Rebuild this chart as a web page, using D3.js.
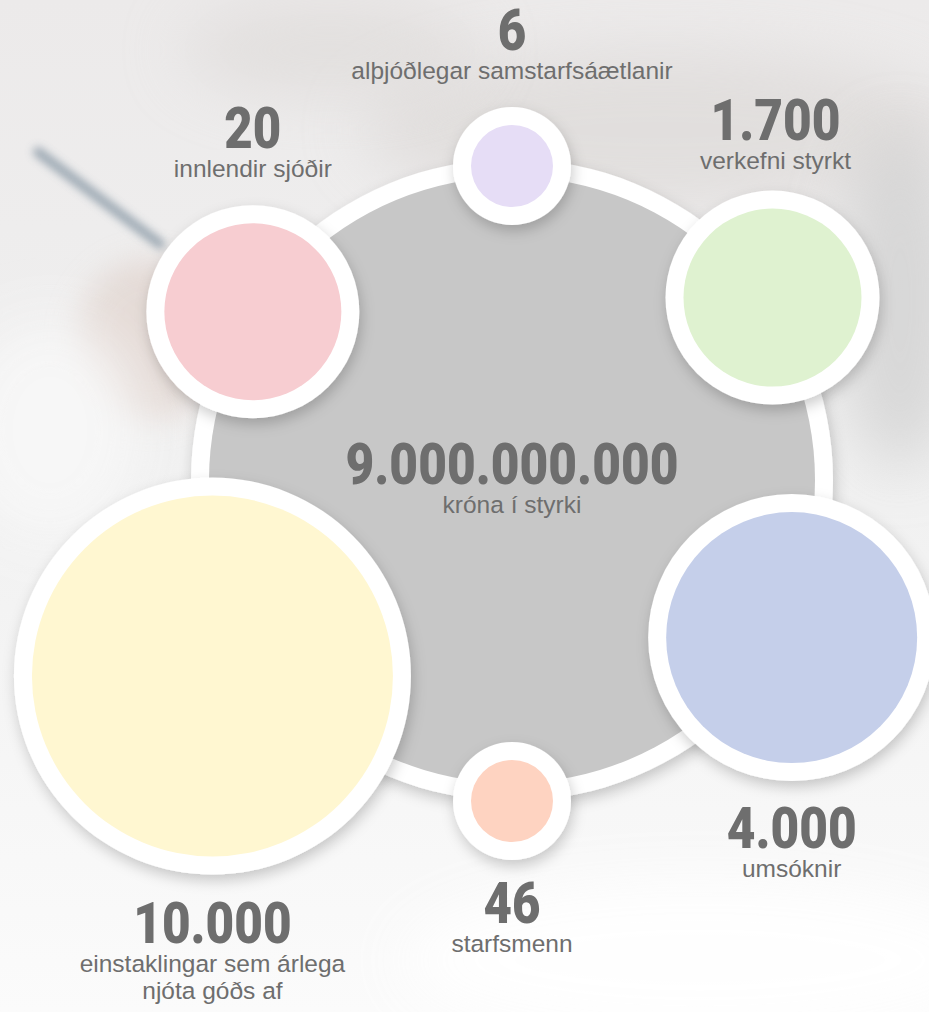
<!DOCTYPE html>
<html>
<head>
<meta charset="utf-8">
<script src="https://cdn.jsdelivr.net/npm/d3@7"></script>
<style>
  html, body { margin: 0; padding: 0; background: #f3f3f3; }
  svg { display: block; }
</style>
</head>
<body>
<div id="chart"></div>
<script>
const width = 929;
const height = 1012;

// centre figure
const centerValue = "9.000.000.000";
const centerLabel = ["króna í styrki"];

// satellite figures, clockwise from the top
const values = ["6", "1.700", "4.000", "46", "10.000", "20"];
const labels = [
  ["alþjóðlegar samstarfsáætlanir"],
  ["verkefni styrkt"],
  ["umsóknir"],
  ["starfsmenn"],
  ["einstaklingar sem árlega", "njóta góðs af"],
  ["innlendir sjóðir"]
];

// layout (degrees clockwise from 12 o'clock, distance from centre, inner radius)
const angles = [0, 55, 119.4, 180, 236.8, 303];
const distances = [314, 318, 321, 321, 358, 309];
const radii = [41, 89, 125.5, 41, 180.5, 88.5];
const textDx = [0, 3, 0, 0, 0, 0];
const textDy = [-116, -158, 210, 122, 267, -164];
const fills = ["#e6ddf6", "#dff2d0", "#c5cfea", "#fed3c1", "#fff7d1", "#f7cdd1"];

const cx = 512, cy = 480;
const centerR = 303;
const ring = 18;
const textColor = "#6e6e6e";

const svg = d3.select("#chart")
  .append("svg")
  .attr("width", width)
  .attr("height", height);

const defs = svg.append("defs");

const blur = (id, sd) => defs.append("filter")
  .attr("id", id)
  .attr("x", "-50%").attr("y", "-50%")
  .attr("width", "200%").attr("height", "200%")
  .append("feGaussianBlur").attr("stdDeviation", sd);
blur("blur30", 30);
blur("blur15", 15);
blur("blur4", 4);

const shadow = defs.append("filter")
  .attr("id", "shadow")
  .attr("x", "-30%").attr("y", "-30%")
  .attr("width", "160%").attr("height", "160%");
shadow.append("feDropShadow")
  .attr("dx", 2).attr("dy", 6)
  .attr("stdDeviation", 7)
  .attr("flood-color", "#000")
  .attr("flood-opacity", 0.2);

const bgGrad = defs.append("linearGradient")
  .attr("id", "bggrad")
  .attr("x1", 0).attr("y1", 0).attr("x2", 0).attr("y2", 1);
bgGrad.append("stop").attr("offset", "0%").attr("stop-color", "#eceaea");
bgGrad.append("stop").attr("offset", "45%").attr("stop-color", "#f0f0f0");
bgGrad.append("stop").attr("offset", "100%").attr("stop-color", "#fbfbfb");

// blurred photo backdrop
const bg = svg.append("g");
bg.append("rect").attr("width", width).attr("height", height).attr("fill", "url(#bggrad)");
bg.append("ellipse").attr("cx", 660).attr("cy", 130).attr("rx", 300).attr("ry", 80)
  .attr("fill", "#d8d4d2").attr("opacity", 0.55).attr("filter", "url(#blur30)");
bg.append("ellipse").attr("cx", 330).attr("cy", 50).attr("rx", 150).attr("ry", 50)
  .attr("fill", "#d9d5d3").attr("opacity", 0.5).attr("filter", "url(#blur30)");
bg.append("ellipse").attr("cx", 900).attr("cy", 300).attr("rx", 60).attr("ry", 170)
  .attr("fill", "#cdcdcd").attr("opacity", 0.7).attr("filter", "url(#blur30)");
bg.append("ellipse").attr("cx", 150).attr("cy", 340).attr("rx", 75).attr("ry", 80)
  .attr("fill", "#e2d6d0").attr("opacity", 0.8).attr("filter", "url(#blur15)");
bg.append("ellipse").attr("cx", 50).attr("cy", 430).attr("rx", 90).attr("ry", 110)
  .attr("fill", "#f8f8f8").attr("opacity", 0.9).attr("filter", "url(#blur30)");
bg.append("line").attr("x1", 38).attr("y1", 152).attr("x2", 160).attr("y2", 244)
  .attr("stroke", "#8898a5").attr("stroke-width", 10).attr("stroke-linecap", "round")
  .attr("opacity", 0.8).attr("filter", "url(#blur4)");
bg.append("ellipse").attr("cx", 700).attr("cy", 960).attr("rx", 300).attr("ry", 80)
  .attr("fill", "#ffffff").attr("opacity", 0.9).attr("filter", "url(#blur30)");

// centre circle
const center = svg.append("g").attr("transform", `translate(${cx},${cy})`);
center.append("circle").attr("r", centerR + ring).attr("fill", "#fff").attr("filter", "url(#shadow)");
center.append("circle").attr("r", centerR).attr("fill", "#c7c7c7");

// satellites
const nodes = values.map((v, i) => {
  const p = d3.pointRadial(angles[i] * Math.PI / 180, distances[i]);
  return { value: v, label: labels[i], x: cx + p[0], y: cy + p[1], r: radii[i], fill: fills[i], dx: textDx[i], dy: textDy[i] };
});

const sat = svg.selectAll("g.sat")
  .data(nodes)
  .join("g")
  .attr("class", "sat")
  .attr("transform", d => `translate(${d.x},${d.y})`);
sat.append("circle").attr("r", d => d.r + ring).attr("fill", "#fff").attr("filter", "url(#shadow)");
sat.append("circle").attr("r", d => d.r).attr("fill", d => d.fill);

// text
const numberFont = "Roboto, 'DejaVu Sans Condensed', sans-serif";
const labelFont = "'Liberation Sans', Arial, Helvetica, sans-serif";

function addFigure(x, y, value, lines) {
  const g = svg.append("g");
  const num = g.append("text")
    .attr("text-anchor", "middle")
    .attr("font-family", numberFont)
    .attr("font-weight", 900)
    .attr("font-size", 57)
    .attr("fill", textColor)
    .text(value);
  const digits = value.replace(/[^0-9]/g, "").length;
  const dots = value.length - digits;
  const target = digits * 28.5 + dots * 16;
  const sx = target / num.node().getComputedTextLength();
  num.attr("transform", `translate(${x},${y}) scale(${sx},1)`);
  lines.forEach((t, k) => {
    g.append("text")
      .attr("x", x)
      .attr("y", y + 29 + k * 27)
      .attr("text-anchor", "middle")
      .attr("font-family", labelFont)
      .attr("font-size", 24.5)
      .attr("fill", textColor)
      .text(t);
  });
}

addFigure(cx, 484, centerValue, centerLabel);
nodes.forEach(d => addFigure(d.x + d.dx, d.y + d.dy, d.value, d.label));
</script>
</body>
</html>
